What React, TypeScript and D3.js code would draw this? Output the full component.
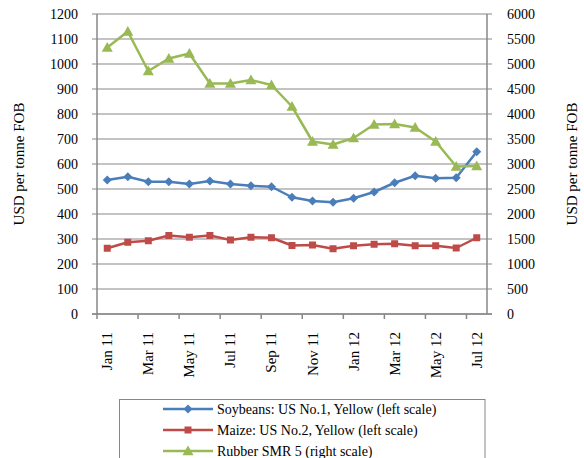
import React from "react";
import * as d3 from "d3";

const months = [
  "Jan 11","Feb 11","Mar 11","Apr 11","May 11","Jun 11","Jul 11","Aug 11","Sep 11","Oct 11",
  "Nov 11","Dec 11","Jan 12","Feb 12","Mar 12","Apr 12","May 12","Jun 12","Jul 12",
];
const tickLabels = ["Jan 11","Mar 11","May 11","Jul 11","Sep 11","Nov 11","Jan 12","Mar 12","May 12","Jul 12"];
const soybeans = [536,549,529,529,520,532,520,513,509,467,452,447,463,488,525,553,543,545,649];
const maize = [263,287,293,314,307,314,296,307,305,274,276,261,273,279,281,273,273,264,305];
const rubber = [5330,5650,4860,5110,5210,4610,4610,4680,4580,4150,3450,3390,3520,3790,3800,3730,3450,2950,2960];
const leftTicks = d3.range(0, 1201, 100);
const rightTicks = d3.range(0, 6001, 500);
const legendLabels = [
  "Soybeans: US No.1, Yellow (left scale)",
  "Maize: US No.2, Yellow (left scale)",
  "Rubber SMR 5 (right scale)",
];

const BLUE = "#4A7EBB";
const RED = "#BE4B48";
const GREEN = "#98B954";
const GRID = "#878787";
const FONT = "Liberation Serif, Times New Roman, Times, serif";

const W = 584, H = 458;
const L = 97, R = 487, T = 14, B = 314;

function Marker({ type, x, y, color }: { type: string; x: number; y: number; color: string }) {
  if (type === "diamond") {
    const s = 4.5;
    return <path d={`M${x},${y - s}L${x + s},${y}L${x},${y + s}L${x - s},${y}Z`} fill={color} />;
  }
  if (type === "square") {
    const s = 3.5;
    return <rect x={x - s} y={y - s} width={2 * s} height={2 * s} fill={color} />;
  }
  const s = 5.5;
  return <path d={`M${x},${y - s}L${x + s},${y + s * 0.75}L${x - s},${y + s * 0.75}Z`} fill={color} />;
}

export default function App() {
  const x = d3.scaleBand<string>().domain(months).range([L, R]);
  const cx = (m: string) => (x(m) as number) + x.bandwidth() / 2;
  const yL = d3.scaleLinear().domain([0, 1200]).range([B, T]);
  const yR = d3.scaleLinear().domain([0, 6000]).range([B, T]);

  const series = [
    { data: soybeans, y: yL, color: BLUE, marker: "diamond" },
    { data: maize, y: yL, color: RED, marker: "square" },
    { data: rubber, y: yR, color: GREEN, marker: "triangle" },
  ];

  const boundaryTicks = d3.range(0, months.length + 1, 2).map((i) => L + i * x.bandwidth());
  const ts = { fontFamily: FONT };

  return (
    <svg width={W} height={H} style={{ position: "absolute", left: 0, top: 0, fontFamily: FONT }}>
      <rect width={W} height={H} fill="#fff" />
      {leftTicks.map((t) => (
        <line key={"g" + t} x1={L - 5} x2={R + 5} y1={yL(t)} y2={yL(t)} stroke={GRID} strokeWidth={1} />
      ))}
      <line x1={L} x2={L} y1={T} y2={B} stroke={GRID} strokeWidth={1.5} />
      <line x1={R} x2={R} y1={T} y2={B} stroke={GRID} strokeWidth={1.5} />
      <line x1={L - 5} x2={R + 5} y1={B} y2={B} stroke={GRID} strokeWidth={1.5} />
      {boundaryTicks.map((bx, i) => (
        <line key={"bt" + i} x1={bx} x2={bx} y1={B} y2={B + 5} stroke={GRID} strokeWidth={1.5} />
      ))}
      {leftTicks.map((t) => (
        <text key={"lt" + t} style={ts} x={78} y={yL(t)} textAnchor="end" dominantBaseline="central" fontSize={14} fill="#000">
          {t}
        </text>
      ))}
      {rightTicks.map((t) => (
        <text key={"rt" + t} style={ts} x={507} y={yR(t)} textAnchor="start" dominantBaseline="central" fontSize={14} fill="#000">
          {t}
        </text>
      ))}
      <text style={ts} transform={`translate(19,${(T + B) / 2}) rotate(-90)`} textAnchor="middle" dominantBaseline="central" fontSize={15}>
        USD per tonne FOB
      </text>
      <text style={ts} transform={`translate(572,${(T + B) / 2}) rotate(-90)`} textAnchor="middle" dominantBaseline="central" fontSize={15}>
        USD per tonne FOB
      </text>
      {tickLabels.map((m) => (
        <text key={"xl" + m} style={ts} transform={`translate(${cx(m)},332) rotate(-90)`} textAnchor="end" dominantBaseline="central" fontSize={15}>
          {m}
        </text>
      ))}
      {series.map((s, si) => {
        const line = d3
          .line<number>()
          .x((_, i) => cx(months[i]))
          .y((d) => s.y(d));
        return (
          <g key={"s" + si}>
            <path d={line(s.data) || ""} fill="none" stroke={s.color} strokeWidth={2.5} strokeLinejoin="round" />
            {s.data.map((d, i) => (
              <Marker key={i} type={s.marker} x={cx(months[i])} y={s.y(d)} color={s.color} />
            ))}
          </g>
        );
      })}
      <rect x={119.5} y={399.5} width={365.5} height={70} fill="none" stroke={GRID} strokeWidth={1} />
      {series.map((s, i) => {
        const ly = 409 + i * 21;
        return (
          <g key={"lg" + i}>
            <line x1={163} x2={213} y1={ly} y2={ly} stroke={s.color} strokeWidth={2.5} />
            <Marker type={s.marker} x={188} y={ly} color={s.color} />
            <text style={ts} x={217} y={ly} dominantBaseline="central" fontSize={14}>
              {legendLabels[i]}
            </text>
          </g>
        );
      })}
    </svg>
  );
}
